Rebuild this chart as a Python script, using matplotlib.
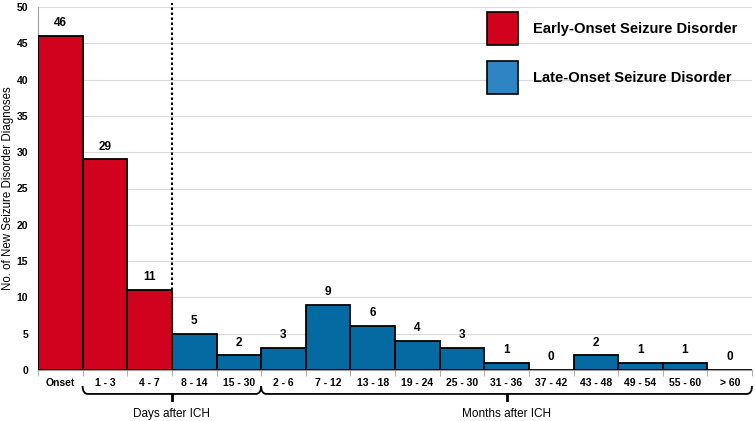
import matplotlib
matplotlib.use("Agg")
import matplotlib.pyplot as plt
from matplotlib.patches import Patch, PathPatch
from matplotlib.path import Path
import matplotlib.transforms as mtransforms

plt.rcParams['font.family'] = ['Liberation Sans', 'DejaVu Sans']

categories = ["Onset", "1 - 3", "4 - 7", "8 - 14", "15 - 30", "2 - 6", "7 - 12", "13 - 18",
              "19 - 24", "25 - 30", "31 - 36", "37 - 42", "43 - 48", "49 - 54", "55 - 60", "> 60"]
values = [46, 29, 11, 5, 2, 3, 9, 6, 4, 3, 1, 0, 2, 1, 1, 0]
groups = ["early"] * 3 + ["late"] * 13
n_days = 5  # first 5 categories are days, rest months

red = "#D0021E"
blue = "#066AA2"
legend_blue = "#2F84C3"

fig = plt.figure(figsize=(7.55, 4.21), dpi=100)
ax = fig.add_axes([38/755, 51/421, 714/755, 363/421])

x = list(range(len(categories)))
colors = [red if g == "early" else blue for g in groups]
ax.bar(x, values, width=1.0, color=colors, edgecolor="black", linewidth=1.3, zorder=3)
for xi, v in zip(x, values):
    ax.annotate(str(v), (xi, v), xytext=(0, 5), textcoords="offset points",
                ha="center", va="bottom", fontsize=8.5, fontweight="bold")

ax.set_xlim(-0.5, len(categories) - 0.5)
ax.set_ylim(0, 50)
ax.set_yticks(range(0, 51, 5))
ax.yaxis.grid(True, color="#D9D9D9", linewidth=0.8, zorder=0)
ax.set_axisbelow(True)
ax.set_xticks(x)
ax.set_xticklabels(categories, fontsize=7.5, fontweight="bold")
ax.tick_params(axis="x", which="major", length=0, pad=6)
ax.set_xticks([i + 0.5 for i in range(-1, len(categories))], minor=True)
ax.tick_params(axis="x", which="minor", length=4, color="#A0A0A0")
ax.tick_params(axis="y", length=0, labelsize=7.5, pad=7)
for lbl in ax.get_yticklabels():
    lbl.set_fontweight("bold")
for s in ["top", "right"]:
    ax.spines[s].set_visible(False)
ax.spines["left"].set_color("#A0A0A0")
ax.spines["bottom"].set_color("#A0A0A0")
ax.set_ylabel("No. of New Seizure Disorder Diagnoses", fontsize=8.3)
ax.yaxis.set_label_coords(-24/714, 0.5)

# dotted divider
ax.plot([2.5, 2.5], [0, 50.5], color="black", linestyle=(0, (1.2, 1.2)), linewidth=1.5,
        zorder=4, clip_on=False)

# brackets
trans = mtransforms.blended_transform_factory(ax.transData, ax.transAxes)
def bracket(x0, x1, label):
    xm = (x0 + x1) / 2
    yb, ye, yt = -0.066, -0.044, -0.084
    dx = 0.12
    verts = [(x0, ye), (x0, yb), (x0 + dx, yb), (x1 - dx, yb), (x1, yb), (x1, ye)]
    codes = [Path.MOVETO, Path.CURVE3, Path.CURVE3, Path.LINETO, Path.CURVE3, Path.CURVE3]
    ax.add_patch(PathPatch(Path(verts, codes), facecolor="none", edgecolor="black",
                           linewidth=1.3, transform=trans, clip_on=False))
    ax.plot([xm, xm], [yb, yt], color="black", linewidth=2.0, transform=trans, clip_on=False)
    ax.text(xm, -0.105, label, transform=trans, ha="center", va="top", fontsize=8.5)

bracket(0.5, n_days - 0.5, "Days after ICH")
bracket(n_days - 0.5, len(categories) - 0.5, "Months after ICH")

handles = [Patch(facecolor=red, edgecolor="black", linewidth=1.2, label="Early-Onset Seizure Disorder"),
           Patch(facecolor=legend_blue, edgecolor="black", linewidth=1.2, label="Late-Onset Seizure Disorder")]
fig.legend(handles=handles, loc="upper left", bbox_to_anchor=(474/755, 1 + 1/421),
           frameon=False, prop={"weight": "bold", "size": 10.6},
           handlelength=2.1, handleheight=3.0, labelspacing=1.15, handletextpad=1.0)

fig.savefig("out.png", dpi=100, facecolor="white")
